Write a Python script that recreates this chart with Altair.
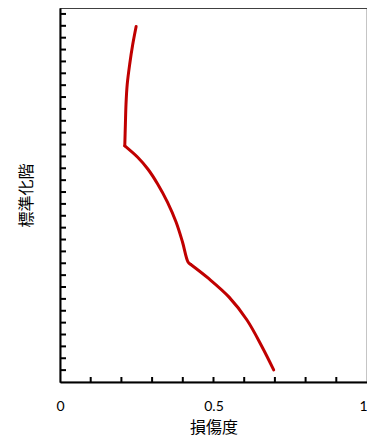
import altair as alt
import pandas as pd

# damage index (x) vs standardized floor (y); seg = curve piece
damage = [0.696, 0.658, 0.609, 0.550, 0.485, 0.426,
          0.426, 0.417, 0.399, 0.378, 0.350, 0.318, 0.286, 0.253, 0.211,
          0.211, 0.213, 0.215, 0.219, 0.227, 0.237, 0.248]
floor = [0.034, 0.099, 0.174, 0.239, 0.290, 0.330,
         0.330, 0.337, 0.393, 0.449, 0.505, 0.556, 0.598, 0.631, 0.663,
         0.663, 0.724, 0.780, 0.836, 0.892, 0.948, 0.998]
seg = [1] * 6 + [2] * 9 + [3] * 7

x_tick_vals = [0.1, 0.2, 0.3, 0.4, 0.5, 0.6, 0.7, 0.8, 0.9]
y_tick_vals = [k / 30 for k in range(1, 32)]
x_label_vals = [0, 0.5, 1]

df = pd.DataFrame({"damage": damage, "floor": floor, "seg": seg,
                   "order": list(range(len(damage)))})
xt = pd.DataFrame({"v": x_tick_vals})
yt = pd.DataFrame({"v": y_tick_vals})

W, H = 307, 374
xscale = alt.Scale(domain=[0, 1], nice=False, zero=False)
yscale = alt.Scale(domain=[0, 1.05], nice=False, zero=False)

line = alt.Chart(df).mark_line(color="#C00000", strokeWidth=3, strokeCap="round",
                               interpolate="catmull-rom").encode(
    x=alt.X("damage:Q", scale=xscale, title="損傷度",
            axis=alt.Axis(values=x_label_vals, format="~g", ticks=False, grid=False,
                          labelFlush=False, labelPadding=17, titlePadding=6,
                          labelAlign={"condition": {"test": "datum.value == 1", "value": "right"},
                                      "value": "center"},
                          domainColor="black", domainWidth=2)),
    y=alt.Y("floor:Q", scale=yscale, title="標準化階",
            axis=alt.Axis(labels=False, ticks=False, grid=False, titlePadding=26,
                          domainColor="black", domainWidth=2)),
    detail="seg:N",
    order="order:Q",
)

xticks = alt.Chart(xt).mark_rule(color="black", strokeWidth=2).encode(
    x=alt.X("v:Q", scale=xscale),
    y=alt.value(H),
    y2=alt.value(H - 5),
)

yticks = alt.Chart(yt).mark_rule(color="black", strokeWidth=2).encode(
    y=alt.Y("v:Q", scale=yscale),
    x=alt.value(0),
    x2=alt.value(6),
)

chart = alt.layer(xticks, yticks, line).properties(
    width=W, height=H,
    autosize=alt.AutoSizeParams(type="none"),
    padding={"left": 52, "top": 0, "right": 0, "bottom": 56},
).configure_view(
    stroke="#404040", strokeWidth=1.2
).configure_axis(
    labelFont="Lato", labelFontSize=14, labelColor="black",
    titleFont="Noto Sans CJK JP", titleFontSize=16, titleColor="black", titleFontWeight="normal",
)

chart.save("out.html", embed_options={"renderer": "svg", "actions": False})
